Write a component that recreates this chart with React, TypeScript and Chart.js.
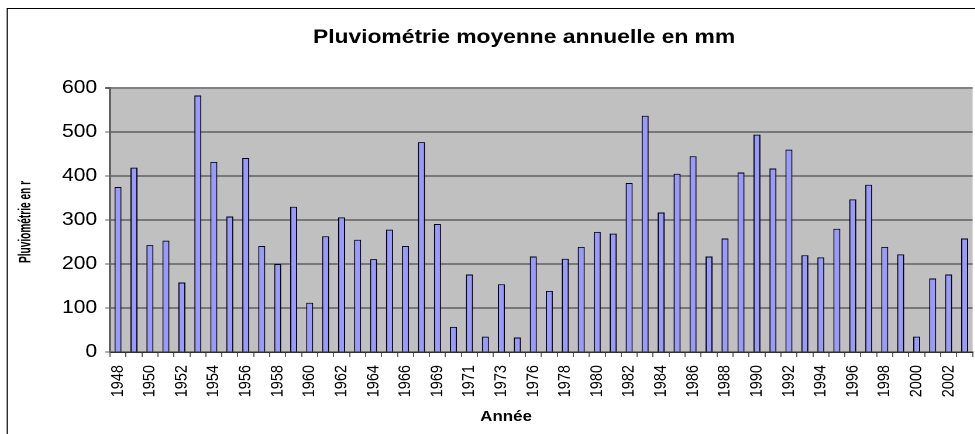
import { useEffect, useRef } from "react";
import { Chart, registerables } from "chart.js";
Chart.register(...registerables);

const years = [
  "1948", "1949", "1950", "1951", "1952", "1953", "1954", "1955", "1956", "1957",
  "1958", "1959", "1960", "1961", "1962", "1963", "1964", "1965", "1966", "1967",
  "1969", "1970", "1971", "1972", "1973", "1974", "1976", "1977", "1978", "1979",
  "1980", "1981", "1982", "1983", "1984", "1985", "1986", "1987", "1988", "1989",
  "1990", "1991", "1992", "1993", "1994", "1995", "1996", "1997", "1998", "1999",
  "2000", "2001", "2002", "2003",
];
const rainfall = [
  375, 419, 243, 253, 158, 583, 432, 308, 441, 241,
  200, 330, 112, 263, 306, 255, 211, 278, 241, 477,
  291, 57, 176, 35, 154, 33, 217, 139, 212, 239,
  273, 269, 384, 537, 317, 405, 445, 217, 258, 408,
  494, 417, 460, 220, 215, 280, 347, 380, 239, 222,
  35, 167, 176, 258,
];
const yMin = 0;
const yMax = 600;
const yStep = 100;
const chartTitle = "Pluviométrie moyenne annuelle en mm";
const yTitle = "Pluviométrie en r";
const xTitle = "Année";

const FONT = '"Liberation Sans", Arial, Helvetica, sans-serif';
// the reference picture is stretched horizontally
const SX = 1.17;
const CW = 850;
const CH = 440;

export default function App() {
  const ref = useRef<HTMLCanvasElement>(null);
  useEffect(() => {
    const canvas = ref.current;
    if (!canvas) return;
    const deco = {
      id: "deco",
      beforeDraw(chart: any) {
        const { ctx, chartArea: a } = chart;
        ctx.save();
        ctx.fillStyle = "#ffffff";
        ctx.fillRect(0, 0, chart.width, chart.height);
        ctx.fillStyle = "#c0c0c0";
        ctx.fillRect(a.left, a.top, a.right - a.left, a.bottom - a.top);
        ctx.strokeStyle = "#000000";
        ctx.lineWidth = 1;
        ctx.strokeRect(6.2, 8.5, chart.width + 10, chart.height + 10);
        ctx.restore();
      },
      afterDraw(chart: any) {
        const { ctx } = chart;
        ctx.save();
        ctx.fillStyle = "#000000";
        ctx.font = `bold 19.5px ${FONT}`;
        ctx.textAlign = "left";
        ctx.textBaseline = "alphabetic";
        ctx.fillText(chartTitle, 267.5, 43);

        ctx.font = `bold 14.5px ${FONT}`;
        ctx.textAlign = "center";
        ctx.fillText(xTitle, 432.5, 421);

        ctx.translate(22.2, 222);
        ctx.rotate(-Math.PI / 2);
        ctx.font = `bold 14.5px ${FONT}`;
        const w = ctx.measureText(yTitle).width;
        ctx.scale(82 / w, 1);
        ctx.textAlign = "center";
        ctx.textBaseline = "middle";
        ctx.fillText(yTitle, 0, 0);
        ctx.restore();
      },
    };

    const chart = new Chart(canvas, {
      type: "bar",
      data: {
        labels: years,
        datasets: [
          {
            data: rainfall,
            backgroundColor: "#9999ff",
            borderColor: "#000000",
            borderWidth: 1,
            categoryPercentage: 1,
            barPercentage: 0.44,
          },
        ],
      },
      options: {
        responsive: false,
        animation: false,
        devicePixelRatio: 2,
        layout: { padding: { left: 0, top: 88, right: CW - 835, bottom: 0 } },
        plugins: {
          legend: { display: false },
          title: { display: false },
          tooltip: { enabled: false },
        },
        scales: {
          x: {
            type: "category",
            offset: true,
            grid: {
              offset: true,
              drawOnChartArea: false,
              drawTicks: true,
              tickLength: 5,
              color: "#606060",
              tickColor: "#606060",
            },
            border: { display: true, color: "#303030", width: 1.5 },
            ticks: {
              autoSkip: false,
              maxRotation: 90,
              minRotation: 90,
              padding: 8,
              color: "#000000",
              font: { family: FONT, size: 14.5 },
              callback: (_v: any, i: number) => (i % 2 === 0 ? years[i] : ""),
            },
            afterFit: (s: any) => {
              s.height = 88;
            },
          },
          y: {
            min: yMin,
            max: yMax,
            grid: {
              drawTicks: true,
              tickLength: 4,
              color: (c: any) => (c.tick && c.tick.value === yMax ? "#808080" : "#303030"),
              lineWidth: (c: any) => (c.tick && c.tick.value === yMax ? 2 : 1),
              tickColor: "#606060",
            },
            border: { display: true, color: "#606060", width: 2 },
            ticks: {
              stepSize: yStep,
              padding: 7,
              color: "#000000",
              font: { family: FONT, size: 18 },
            },
            afterFit: (s: any) => {
              s.width = 94;
            },
          },
        },
      },
      plugins: [deco],
    });
    return () => chart.destroy();
  }, []);
  return (
    <div
      style={{
        position: "fixed",
        left: 0,
        top: 0,
        width: 975,
        height: 434,
        overflow: "hidden",
        background: "#ffffff",
      }}
    >
      <div
        style={{
          width: CW,
          height: CH,
          transform: `scaleX(${SX})`,
          transformOrigin: "0 0",
        }}
      >
        <canvas ref={ref} width={CW} height={CH} />
      </div>
    </div>
  );
}
